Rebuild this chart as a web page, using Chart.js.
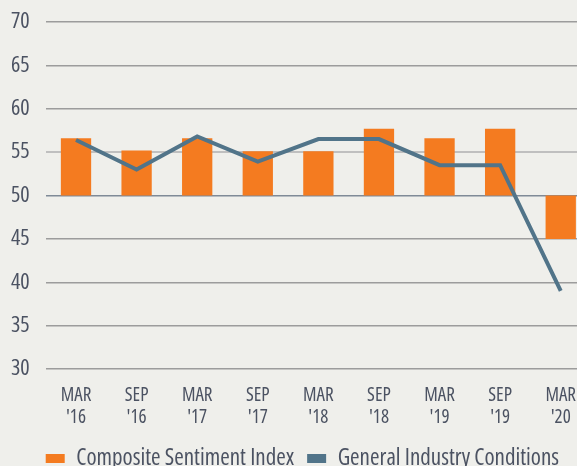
<!DOCTYPE html>
<html>
<head>
<meta charset="utf-8">
<script src="https://cdn.jsdelivr.net/npm/chart.js@4/dist/chart.umd.min.js"></script>
<style>
  html, body { margin: 0; padding: 0; background: #efefeb; }
  #wrap { width: 577px; height: 466px; overflow: hidden; position: relative; }
  canvas { display: block; }
</style>
</head>
<body>
<div id="wrap"><canvas id="chart" width="592" height="480"></canvas></div>
<script>
const labels = [["MAR", "'16"], ["SEP", "'16"], ["MAR", "'17"], ["SEP", "'17"], ["MAR", "'18"], ["SEP", "'18"], ["MAR", "'19"], ["SEP", "'19"], ["MAR", "'20"]];
const base = 50;
const composite = [56.6, 55.2, 56.6, 55.1, 55.1, 57.7, 56.6, 57.7, 45];
const industry = [56.4, 53, 56.8, 53.9, 56.5, 56.5, 53.5, 53.5, 39];

const FONT = "'Open Sans', 'DejaVu Sans Condensed', sans-serif";
const TEXT = "#4b5262";
const ORANGE = "#f47b20";
const BLUE = "#517489";

// legend starts at the plot's left edge, not the canvas edge
const legendShift = {
  id: "legendShift",
  afterLayout(chart) {
    const pad = chart.legend.options.labels.padding;
    chart.legend.left = chart.chartArea.left - pad;
  }
};

new Chart(document.getElementById("chart"), {
  type: "bar",
  data: {
    labels: labels,
    datasets: [{
      label: "Composite Sentiment Index",
      data: composite.map(v => [base, v]),
      backgroundColor: ORANGE,
      barPercentage: 0.5,
      categoryPercentage: 1,
      order: 2
    }, {
      type: "line",
      label: "General Industry Conditions",
      data: industry,
      borderColor: BLUE,
      backgroundColor: BLUE,
      borderWidth: 4,
      pointRadius: 0,
      tension: 0,
      order: 1
    }]
  },
  options: {
    responsive: false,
    animation: false,
    layout: { padding: { left: 11, top: 22, right: 0, bottom: 0 } },
    scales: {
      x: {
        grid: { display: false, drawTicks: false },
        border: { display: false },
        ticks: {
          color: TEXT,
          padding: 16,
          maxRotation: 0,
          autoSkip: false,
          font: { family: FONT, weight: "condensed", size: 19, lineHeight: "22px" }
        },
        afterFit: s => { s.height += 5 - 16; }
      },
      y: {
        min: 30,
        max: 70,
        border: { display: false },
        grid: {
          drawTicks: false,
          color: ctx => ctx.tick.value === 50 ? "#7f8a97" : ctx.tick.value === 55 ? "#bfbfbf" : "#9c9c9c",
          lineWidth: ctx => ctx.tick.value === 55 ? 2 : 1.5
        },
        ticks: {
          stepSize: 5,
          color: TEXT,
          padding: 16,
          font: { family: FONT, weight: "condensed", size: 22, lineHeight: 0.5 }
        },
        afterFit: s => { s.width -= 16; }
      }
    },
    plugins: {
      tooltip: { enabled: false },
      legend: {
        position: "bottom",
        align: "start",
        labels: {
          boxWidth: 19,
          boxHeight: 9,
          padding: 13,
          color: TEXT,
          font: { family: FONT, weight: "condensed", size: 23 },
          sort: (a, b) => a.datasetIndex - b.datasetIndex,
          generateLabels(chart) {
            return Chart.defaults.plugins.legend.labels.generateLabels(chart)
              .map(l => Object.assign(l, { lineWidth: 0 }));
          }
        }
      }
    }
  },
  plugins: [legendShift]
});
</script>
</body>
</html>
